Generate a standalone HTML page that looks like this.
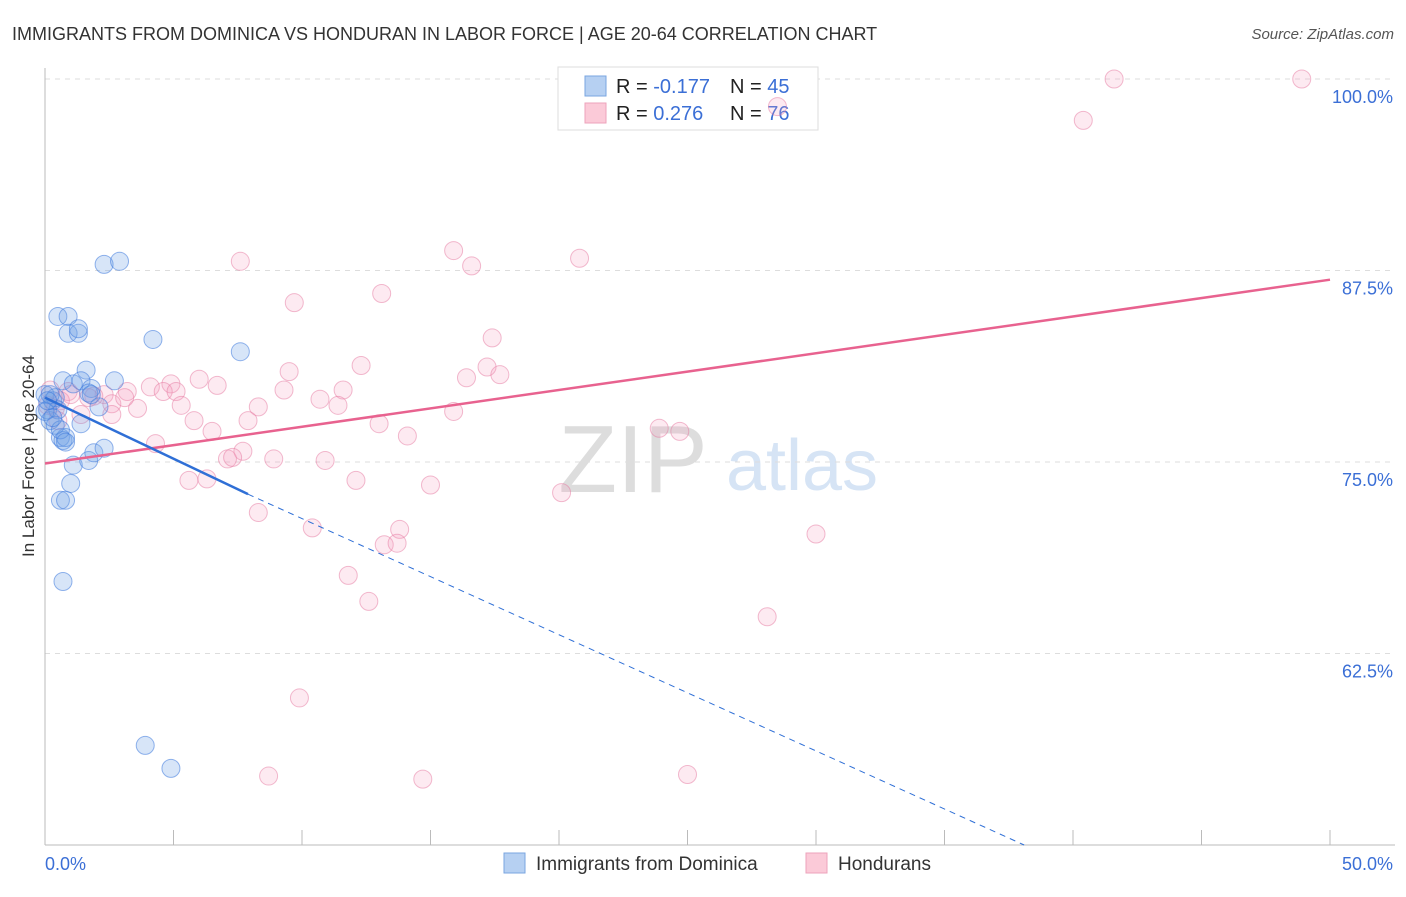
<!DOCTYPE html>
<html><head><meta charset="utf-8"><style>
body{margin:0;background:#fff;font-family:"Liberation Sans",sans-serif}
svg text{font-family:"Liberation Sans",sans-serif}
</style></head><body>
<svg id="chart" width="1406" height="892" viewBox="0 0 1406 892">
<text x="12" y="40" font-size="18" fill="#333">IMMIGRANTS FROM DOMINICA VS HONDURAN IN LABOR FORCE | AGE 20-64 CORRELATION CHART</text>
<text x="1394" y="39" font-size="15" fill="#555" text-anchor="end" font-style="italic">Source: ZipAtlas.com</text>
<text x="633" y="492" font-size="96" fill="#ddd" font-family="Liberation Serif,serif" text-anchor="middle">ZIP</text>
<text x="802" y="490" font-size="72" fill="#d6e4f5" text-anchor="middle">atlas</text>
<g id="grid"></g>
<g id="axes"></g>
<g>
<rect x="558" y="67" width="260" height="63" fill="#fff" stroke="#ddd"/>
<rect x="585" y="76" width="21" height="20" fill="#b6d0f2" stroke="#7aa6e0"/>
<rect x="585" y="103" width="21" height="20" fill="#fbcad8" stroke="#eea3bb"/>
<text x="616" y="93" font-size="20" fill="#222">R = <tspan fill="#3b6fd6">-0.177</tspan></text>
<text x="730" y="93" font-size="20" fill="#222">N = <tspan fill="#3b6fd6">45</tspan></text>
<text x="616" y="120" font-size="20" fill="#222">R = <tspan fill="#3b6fd6"> 0.276</tspan></text>
<text x="730" y="120" font-size="20" fill="#222">N = <tspan fill="#3b6fd6">76</tspan></text>
</g>
<g id="pts"></g>
<g id="trends"></g>
<text x="34" y="456" font-size="17" fill="#333" text-anchor="middle" transform="rotate(-90 34 456)">In Labor Force | Age 20-64</text>
<g>
<rect x="504" y="853" width="21" height="20" fill="#b6d0f2" stroke="#7aa6e0"/>
<text x="536" y="870" font-size="19" fill="#333">Immigrants from Dominica</text>
<rect x="806" y="853" width="21" height="20" fill="#fbcad8" stroke="#eea3bb"/>
<text x="838" y="870" font-size="19" fill="#333">Hondurans</text>
</g>
</svg>
<script>
const yTicks=[100,87.5,75,62.5];
const yTickLabels=["100.0%","87.5%","75.0%","62.5%"];
const xTickLabels=["0.0%","50.0%"];
const blueX=[0.0,0.1,0.2,0.3,0.4,0.5,0.6,0.7,0.8,0.5,0.9,0.9,1.3,1.3,1.6,0.7,1.1,1.4,1.8,1.7,2.1,2.7,2.3,2.9,4.2,7.6,1.4,1.1,1.7,1.9,2.3,1.0,0.6,0.8,0.7,3.9,4.9,0.2,0.0,0.4,0.6,0.8,0.3,0.1,1.8];
const blueY=[79.4,78.4,77.7,79.0,79.2,78.4,76.6,76.4,76.6,84.5,84.5,83.4,83.4,83.7,81.0,80.3,80.1,80.3,79.8,79.5,78.6,80.3,87.9,88.1,83.0,82.2,77.5,74.8,75.1,75.6,75.9,73.6,72.5,72.5,67.2,56.5,55.0,79.4,78.3,77.4,77.1,76.3,77.9,79.0,79.4];
const pinkX=[41.6,48.9,28.5,40.4,15.9,16.6,20.8,7.6,9.7,13.1,17.4,12.3,9.5,16.4,17.2,17.7,6.0,6.7,4.9,4.1,3.2,2.3,4.6,5.1,9.3,11.6,10.7,11.4,8.3,5.3,3.6,2.6,1.9,0.9,0.6,0.4,1.4,2.6,7.9,5.8,6.5,13.0,14.1,15.9,23.9,24.7,4.3,7.7,8.9,10.9,7.1,7.3,5.6,6.3,12.1,15.0,20.1,8.3,10.4,13.8,13.2,13.7,30.0,11.8,12.6,28.1,9.9,8.7,14.7,25.0,0.2,0.1,0.5,1.0,3.1,1.7];
const pinkY=[100,100,98.2,97.3,88.8,87.8,88.3,88.1,85.4,86.0,83.1,81.3,80.9,80.5,81.2,80.7,80.4,80.0,80.1,79.9,79.6,79.4,79.6,79.6,79.7,79.7,79.1,78.7,78.6,78.7,78.5,78.8,79.3,79.6,79.0,78.5,78.1,78.1,77.7,77.7,77.0,77.5,76.7,78.3,77.2,77.0,76.2,75.7,75.2,75.1,75.2,75.3,73.8,73.9,73.8,73.5,73.0,71.7,70.7,70.6,69.6,69.7,70.3,67.6,65.9,64.9,59.6,54.5,54.3,54.6,79.7,78.7,77.7,79.4,79.2,79.2];
const blueTrend=[[0,79.2],[7.9,72.9],[38.1,50]];
const pinkTrend=[[0,74.9],[50,86.9]];
const NS="http://www.w3.org/2000/svg";
const X=v=>45+v*25.7, Y=v=>79+(100-v)*15.32;
function mk(t,a,p){const e=document.createElementNS(NS,t);for(const k in a)e.setAttribute(k,a[k]);p.appendChild(e);return e;}
const grid=document.getElementById('grid'),axes=document.getElementById('axes'),pts=document.getElementById('pts'),tr=document.getElementById('trends');
yTicks.forEach((v,i)=>{
 const l=mk('line',{x1:45,x2:1395,y1:Y(v),y2:Y(v),stroke:'#ddd','stroke-dasharray':'5,5'},grid);
 
 
 const t=mk('text',{x:1393,y:Y(v)+24,'font-size':18,fill:'#3b6fd6','text-anchor':'end'},grid);
 t.textContent=yTickLabels[i];
 
 
});
const a1=mk('line',{x1:45,x2:45,y1:68,y2:845,stroke:'#bbb'},axes);


const a2=mk('line',{x1:45,x2:1395,y1:845,y2:845,stroke:'#bbb'},axes);


for(let v=0;v<=50;v+=5){
 const t=mk('line',{x1:X(v),x2:X(v),y1:830,y2:845,stroke:'#bbb'},axes);
 
 
}
[[0,'start',45],[50,'end',1393]].forEach((d,i)=>{
 const t=mk('text',{x:d[2],y:870,'font-size':18,fill:'#3b6fd6','text-anchor':d[1]},axes);
 t.textContent=xTickLabels[i];
 
 
});
pinkX.forEach((x,i)=>{
 const c=mk('circle',{cx:X(x),cy:Y(pinkY[i]),r:9,fill:'rgba(244,160,190,0.22)',stroke:'rgba(230,120,160,0.5)','stroke-width':1},pts);
 
 
});
blueX.forEach((x,i)=>{
 const c=mk('circle',{cx:X(x),cy:Y(blueY[i]),r:9,fill:'rgba(110,160,230,0.28)',stroke:'rgba(60,120,220,0.55)','stroke-width':1},pts);
 
 
});
const pl=mk('line',{x1:X(pinkTrend[0][0]),y1:Y(pinkTrend[0][1]),x2:X(pinkTrend[1][0]),y2:Y(pinkTrend[1][1]),stroke:'#e8628f','stroke-width':2.5},tr);


const bl=mk('line',{x1:X(blueTrend[0][0]),y1:Y(blueTrend[0][1]),x2:X(blueTrend[1][0]),y2:Y(blueTrend[1][1]),stroke:'#2f6fd6','stroke-width':2.5},tr);


const bd=mk('line',{x1:X(blueTrend[1][0]),y1:Y(blueTrend[1][1]),x2:X(blueTrend[2][0]),y2:Y(blueTrend[2][1]),stroke:'#2f6fd6','stroke-width':1,'stroke-dasharray':'6,5'},tr);


</script>
</body></html>
